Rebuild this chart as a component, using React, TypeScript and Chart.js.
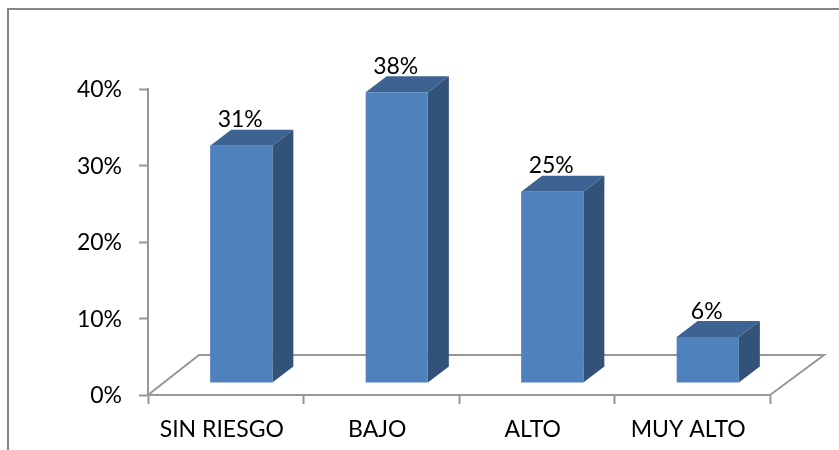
import React, { useEffect, useRef } from "react";
import { Chart, registerables } from "chart.js";

Chart.register(...registerables);

const categories = ["SIN RIESGO", "BAJO", "ALTO", "MUY ALTO"];
const values = [31, 38, 25, 6];
const yTicks = [0, 10, 20, 30, 40];

const FONT = "Lato, Carlito, sans-serif";
const AXIS = "#979797";
const FLOOR_DX = 51;
const FLOOR_DY = 40;
const BAR_SHIFT_X = 15.5;
const BAR_SHIFT_Y = -12;
const DEPTH_X = 21;
const DEPTH_Y = 16;

const poly = (ctx: CanvasRenderingContext2D, pts: number[][], fill: string) => {
  ctx.beginPath();
  pts.forEach(([x, y], i) => (i ? ctx.lineTo(x, y) : ctx.moveTo(x, y)));
  ctx.closePath();
  ctx.fillStyle = fill;
  ctx.fill();
};

const bars3d = {
  id: "bars3d",
  beforeDatasetsDraw(chart: any) {
    const { ctx, chartArea: a } = chart;
    ctx.save();
    ctx.strokeStyle = AXIS;
    ctx.lineWidth = 2;
    ctx.beginPath();
    ctx.moveTo(a.left, a.bottom);
    ctx.lineTo(a.left + FLOOR_DX, a.bottom - FLOOR_DY);
    ctx.lineTo(a.right + FLOOR_DX + 3, a.bottom - FLOOR_DY);
    ctx.lineTo(a.right, a.bottom);
    ctx.stroke();
    ctx.restore();
  },
  beforeDatasetDraw(chart: any, args: any) {
    const { ctx } = chart;
    ctx.save();
    ctx.translate(BAR_SHIFT_X, BAR_SHIFT_Y);
    chart.getDatasetMeta(args.index).data.forEach((b: any) => {
      const l = b.x - b.width / 2;
      const r = b.x + b.width / 2;
      poly(ctx, [[l, b.y], [l + DEPTH_X, b.y - DEPTH_Y], [r + DEPTH_X, b.y - DEPTH_Y], [r, b.y]], "#3d6392");
      poly(ctx, [[r, b.y], [r + DEPTH_X, b.y - DEPTH_Y], [r + DEPTH_X, b.base - DEPTH_Y], [r, b.base]], "#325279");
    });
  },
  afterDatasetDraw(chart: any) {
    chart.ctx.restore();
  },
  afterDatasetsDraw(chart: any) {
    const { ctx } = chart;
    ctx.save();
    ctx.font = `23px ${FONT}`;
    ctx.fillStyle = "#000";
    ctx.textAlign = "center";
    ctx.textBaseline = "middle";
    chart.getDatasetMeta(0).data.forEach((b: any, i: number) => {
      ctx.fillText(`${values[i]}%`, b.x + BAR_SHIFT_X - 1, b.y + BAR_SHIFT_Y - 26);
    });
    ctx.restore();
  },
};

export default function App() {
  const ref = useRef<HTMLCanvasElement>(null);
  useEffect(() => {
    const chart = new Chart(ref.current!, {
      type: "bar",
      data: {
        labels: categories,
        datasets: [
          {
            data: values,
            backgroundColor: "#4f81bd",
            borderWidth: 0,
            barPercentage: 0.4,
            categoryPercentage: 1,
            clip: false as any,
          },
        ],
      },
      options: {
        animation: false,
        responsive: false,
        layout: { padding: { left: 0, right: 69, top: 89, bottom: 0 } },
        plugins: { legend: { display: false }, tooltip: { enabled: false } },
        scales: {
          x: {
            afterFit: (s: any) => { s.height = 55; },
            grid: { drawOnChartArea: false, tickLength: 9, tickColor: AXIS, tickWidth: 2 },
            border: { color: AXIS, width: 2 },
            ticks: { color: "#000", font: { family: FONT, size: 23 }, padding: 12, labelOffset: -4, maxRotation: 0 },
          },
          y: {
            min: yTicks[0],
            max: yTicks[yTicks.length - 1],
            afterFit: (s: any) => { s.width = 148; },
            grid: { drawOnChartArea: false, tickLength: 9, tickColor: AXIS, tickWidth: 2 },
            border: { color: AXIS, width: 2 },
            ticks: {
              stepSize: 10,
              color: "#000",
              padding: 17,
              labelOffset: 1,
              font: { family: FONT, size: 23 },
              callback: (v: any) => `${v}%`,
            },
          },
        },
      },
      plugins: [bars3d],
    });
    return () => chart.destroy();
  }, []);
  return (
    <div style={{ position: "fixed", left: 0, top: 0, width: 839, height: 450, background: "#fff", overflow: "hidden" }}>
      <canvas ref={ref} width={839} height={450} style={{ display: "block" }} />
      <div
        style={{
          position: "absolute",
          left: 7,
          top: 8,
          width: 840,
          height: 450,
          borderLeft: "2px solid #868686",
          borderTop: "2px solid #868686",
        }}
      />
    </div>
  );
}
